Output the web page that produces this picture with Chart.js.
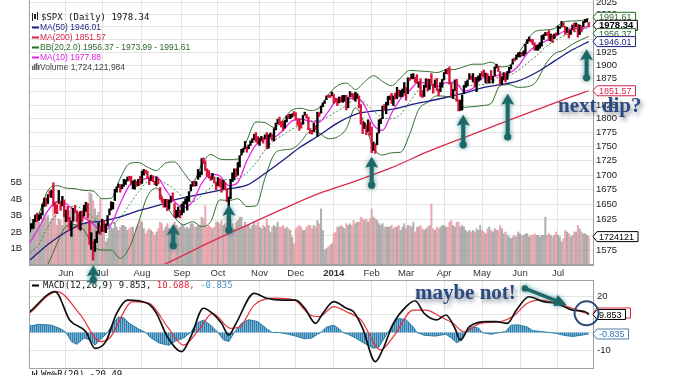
<!DOCTYPE html>
<html>
<head>
<meta charset="utf-8">
<script src="https://cdn.jsdelivr.net/npm/chart.js@4.4.1/dist/chart.umd.min.js"></script>
<style>
  html, body { margin: 0; padding: 0; background: #fff; overflow: hidden; }
  #wrap { position: relative; width: 685px; height: 375px; }
  #wrap canvas { position: absolute; left: 0; top: 0; }
</style>
</head>
<body>
<div id="wrap">
  <canvas id="macdChart" width="685" height="375"></canvas>
  <canvas id="priceChart" width="685" height="375"></canvas>
</div>
<script>
// ---- axis labels ----
const monthIdx = [20, 40, 62, 84, 104, 127, 147, 168, 189, 208, 229, 250, 271, 292];
const monthLabels = ["Jun", "Jul", "Aug", "Sep", "Oct", "Nov", "Dec", "2014", "Feb", "Mar", "Apr", "May", "Jun", "Jul"];
const priceTicks = [1575, 1600, 1625, 1650, 1675, 1700, 1725, 1750, 1775, 1800, 1825, 1850, 1875, 1900, 1925, 1950, 1975, 2000, 2025];
const volTicks = [1, 2, 3, 4, 5];
const macdTicks = [-10, 0, 10, 20];

// ---- daily $SPX, 3 May 2013 .. 25 Jul 2014 ----
const closes = [
  1614.4,1617.5,1626.0,1632.7,1626.7,1633.7,1633.8,1650.3,1658.8,1650.5,1667.5,1666.3,1669.2,1655.4,1650.5,1649.6,1660.1,1648.4,1654.4,1630.7,
  1640.4,1631.4,1608.9,1622.6,1643.4,1642.8,1626.1,1612.5,1636.4,1626.7,1639.0,1651.8,1628.9,1588.2,1592.4,1573.1,1588.0,1603.3,1613.2,1606.3,
  1615.0,1614.1,1615.4,1631.9,1640.5,1652.3,1652.6,1675.0,1680.2,1682.5,1676.3,1680.9,1689.4,1692.1,1695.5,1692.4,1685.9,1690.3,1691.7,1685.3,1686.0,1685.7,
  1706.9,1709.7,1707.1,1697.4,1690.9,1697.5,1691.4,1689.5,1694.2,1685.4,1661.3,1655.8,1646.1,1652.4,1642.8,1657.0,1663.5,1656.8,1630.5,1635.0,1638.2,1633.0,
  1639.8,1653.1,1655.1,1655.2,1671.7,1684.0,1689.1,1683.4,1688.0,1697.6,1704.8,1725.5,1722.3,1709.9,1701.8,1697.4,1692.8,1698.7,1691.8,1681.6,
  1695.0,1693.9,1678.7,1690.5,1676.1,1655.5,1656.4,1692.6,1703.2,1710.1,1698.1,1721.5,1733.2,1744.5,1744.7,1754.7,1746.4,1752.1,1759.8,1762.1,1772.0,1763.3,1756.5,
  1761.6,1767.9,1763.0,1770.5,1747.2,1770.6,1771.9,1767.7,1782.0,1790.6,1798.2,1791.5,1787.9,1781.4,1795.9,1804.8,1802.5,1802.8,1807.2,1805.8,
  1800.9,1795.2,1792.8,1785.0,1805.1,1808.4,1802.6,1782.2,1775.5,1775.3,1786.5,1781.0,1810.7,1809.6,1818.3,1828.0,1833.3,1842.0,1841.4,1841.1,1848.4,
  1832.0,1831.4,1826.8,1837.9,1837.5,1838.1,1842.4,1819.2,1838.9,1848.4,1845.9,1838.7,1843.8,1844.9,1828.5,1790.3,1781.6,1792.5,1774.2,1794.2,1782.6,
  1741.9,1755.2,1751.6,1773.4,1797.0,1799.8,1819.8,1819.3,1829.8,1838.6,1840.8,1828.8,1839.8,1836.3,1847.6,1845.1,1845.2,1854.3,1859.5,
  1845.7,1873.9,1873.8,1877.0,1878.0,1877.2,1867.6,1868.2,1846.3,1841.1,1858.8,1872.3,1860.8,1872.0,1866.5,1857.4,1865.6,1852.6,1849.0,1857.6,1872.3,
  1885.5,1890.9,1888.8,1865.1,1845.0,1852.0,1872.2,1833.1,1815.7,1830.6,1843.0,1862.3,1864.9,1871.9,1879.6,1875.4,1878.6,1863.4,1869.4,1878.3,1884.0,
  1883.7,1881.1,1884.7,1867.7,1878.2,1875.6,1878.5,1896.7,1897.5,1888.5,1870.9,1877.9,1885.1,1872.8,1888.0,1892.5,1900.5,1911.9,1909.8,1920.0,1923.6,
  1925.0,1924.2,1927.9,1940.5,1949.4,1951.3,1950.8,1943.9,1930.1,1936.2,1937.8,1942.0,1957.0,1959.5,1962.9,1962.6,1950.0,1959.5,1957.2,1961.0,1960.2,
  1973.3,1974.6,1985.4,1977.7,1963.7,1972.8,1964.7,1967.6,1977.1,1973.3,1981.6,1958.1,1978.2,1973.6,1983.5,1987.0,1988.0,1978.3
];
const highs = [
  1618,1619,1626,1633,1636,1633,1636,1651,1661,1661,1667,1673,1675,1687,1654,1650,1674,1656,1664,1658,
  1641,1647,1629,1623,1644,1649,1640,1637,1639,1640,1649,1654,1652,1624,1604,1590,1593,1606,1620,1615,
  1626,1624,1618,1632,1643,1655,1654,1676,1680,1685,1684,1684,1693,1692,1697,1698,1698,1690,1692,1690,1693,1698,
  1707,1710,1709,1707,1697,1700,1699,1690,1697,1693,1679,1663,1659,1659,1659,1658,1664,1670,1652,1641,1646,1641,
  1651,1655,1660,1664,1672,1684,1689,1690,1689,1710,1706,1729,1730,1725,1711,1708,1699,1703,1697,1688,
  1696,1694,1692,1691,1687,1676,1663,1693,1704,1711,1711,1722,1734,1745,1747,1759,1750,1753,1760,1764,1772,1775,1768,
  1765,1768,1766,1771,1775,1771,1774,1772,1782,1792,1799,1803,1795,1795,1797,1805,1808,1808,1809,1813,
  1811,1800,1800,1793,1806,1812,1808,1803,1782,1779,1792,1788,1812,1811,1823,1829,1833,1842,1844,1843,1849,
  1845,1838,1837,1840,1840,1843,1843,1843,1839,1850,1847,1846,1849,1846,1842,1826,1795,1793,1789,1798,1794,
  1785,1758,1755,1774,1798,1800,1823,1826,1830,1841,1842,1847,1842,1847,1858,1853,1852,1855,1867,
  1858,1876,1876,1883,1884,1877,1882,1868,1874,1852,1862,1874,1874,1873,1884,1864,1872,1875,1855,1867,1873,
  1886,1892,1894,1897,1865,1854,1872,1873,1835,1834,1844,1862,1869,1872,1884,1880,1884,1876,1877,1880,1884,
  1888,1891,1885,1884,1879,1890,1879,1897,1902,1898,1888,1878,1886,1885,1888,1896,1901,1912,1914,1920,1924,
  1925,1925,1928,1941,1950,1955,1951,1950,1944,1938,1939,1944,1958,1960,1964,1964,1968,1961,1959,1961,1963,
  1977,1975,1986,1984,1976,1974,1969,1969,1979,1983,1983,1980,1979,1977,1986,1990,1991,1984
];
const lows = [
  1605,1610,1611,1622,1622,1624,1627,1633,1647,1648,1652,1663,1662,1648,1636,1635,1652,1641,1648,1630,
  1622,1623,1608,1598,1623,1637,1622,1610,1608,1623,1631,1639,1628,1585,1577,1560,1574,1588,1603,1601,
  1606,1606,1604,1615,1633,1641,1643,1657,1671,1679,1671,1677,1681,1684,1690,1691,1684,1677,1676,1681,1682,1684,
  1686,1700,1703,1694,1684,1691,1689,1684,1682,1685,1659,1654,1646,1646,1640,1643,1654,1656,1629,1628,1630,1628,
  1633,1637,1651,1641,1656,1673,1681,1681,1682,1693,1697,1701,1720,1708,1698,1695,1691,1693,1687,1675,
  1682,1680,1671,1677,1675,1655,1646,1660,1689,1692,1697,1700,1714,1735,1740,1746,1740,1746,1752,1757,1762,1758,1755,
  1752,1761,1756,1764,1746,1747,1767,1761,1760,1780,1791,1789,1785,1778,1783,1794,1800,1800,1803,1805,
  1799,1788,1779,1783,1790,1806,1801,1780,1773,1772,1777,1780,1768,1804,1810,1822,1828,1835,1839,1839,1842,
  1828,1830,1824,1829,1831,1830,1832,1816,1820,1840,1840,1835,1832,1838,1820,1790,1773,1782,1771,1777,1770,
  1739,1743,1738,1753,1774,1791,1800,1815,1809,1825,1835,1828,1824,1836,1837,1841,1840,1841,1847,
  1834,1846,1871,1874,1874,1867,1866,1858,1841,1839,1841,1858,1851,1854,1864,1847,1858,1852,1842,1850,1858,
  1872,1884,1883,1864,1841,1837,1852,1832,1814,1815,1816,1846,1858,1861,1873,1873,1868,1859,1850,1870,1872,
  1879,1878,1866,1867,1866,1872,1866,1880,1895,1888,1862,1864,1872,1868,1873,1886,1893,1902,1908,1911,1916,
  1916,1918,1918,1922,1942,1947,1945,1940,1929,1929,1929,1933,1937,1950,1958,1958,1948,1947,1944,1952,1958,
  1960,1972,1975,1975,1960,1964,1953,1960,1969,1966,1975,1955,1960,1965,1975,1984,1985,1975
];
// volume in billions of shares
const volumes = [
  2.9,2.5,2.7,2.8,2.7,2.6,2.4,2.8,3.0,2.9,3.0,2.6,2.8,3.9,3.2,2.4,2.8,2.7,2.4,3.2,
  3.0,3.1,3.3,3.5,3.2,2.4,3.0,3.1,2.9,2.8,2.5,2.6,3.1,4.4,4.3,3.9,3.4,3.0,3.2,4.0,
  2.3,2.4,1.4,1.6,2.4,2.3,2.2,2.6,2.3,2.1,2.3,2.4,2.4,2.3,2.1,2.2,2.3,2.3,1.9,2.3,2.4,2.7,
  2.6,2.2,1.9,2.1,2.2,2.1,2.0,1.8,2.0,2.2,2.6,2.5,2.1,2.3,2.5,2.2,1.9,2.0,2.6,2.4,2.2,2.3,
  2.5,2.4,2.2,2.3,2.2,2.5,2.5,2.3,2.3,2.4,2.4,2.9,2.8,3.6,2.3,2.4,2.3,2.2,2.3,2.6,
  2.6,2.5,2.7,2.4,2.5,2.9,2.9,2.8,2.5,2.2,2.6,2.7,2.9,2.9,2.3,2.6,2.4,2.4,2.2,2.4,2.6,2.4,2.6,
  2.3,2.2,2.4,2.3,2.8,2.4,2.0,2.3,2.4,2.3,2.6,2.3,2.3,2.4,2.2,2.3,2.2,2.1,1.7,1.3,
  2.2,2.3,2.4,2.3,2.1,2.1,2.3,2.4,2.4,2.2,2.4,2.3,2.7,2.5,3.4,2.1,0.9,1.0,1.1,1.2,1.3,
  1.9,2.0,2.3,2.3,2.4,2.3,2.2,2.5,2.4,2.5,2.4,2.7,2.5,2.6,2.6,2.9,2.8,2.7,2.8,2.6,2.8,
  3.4,2.9,2.8,2.7,2.5,2.4,2.5,2.3,2.3,2.3,2.3,2.4,2.2,2.3,2.3,2.4,2.1,2.3,2.5,
  2.2,2.4,2.4,2.3,2.6,2.0,2.3,2.3,2.4,2.2,2.1,2.2,2.3,2.4,3.7,2.2,2.1,2.3,2.2,2.3,2.4,
  2.4,2.3,2.3,2.6,2.7,2.4,2.3,2.6,2.6,2.3,2.4,2.3,2.1,2.0,2.1,2.0,2.1,2.0,2.2,2.1,2.4,
  2.1,2.0,1.9,2.2,2.3,2.1,2.0,2.2,2.1,2.1,2.4,2.2,1.9,2.0,1.8,1.7,1.6,1.7,1.8,1.7,2.0,
  1.9,1.8,1.8,1.9,1.9,1.7,1.8,1.8,1.9,1.8,1.8,1.7,1.8,1.8,2.9,1.8,1.9,1.8,1.7,1.8,2.0,
  1.8,1.7,1.4,1.6,2.1,2.0,1.9,1.7,1.8,2.0,2.0,2.4,2.2,2.0,1.9,1.9,1.8,1.72
];

// ---- overlays (trading-day index -> value) ----
const bandDays = [0,5,10,15,20,25,30,35,40,45,50,55,60,65,70,75,80,85,90,95,100,105,110,115,120,125,130,135,140,145,150,155,160,165,170,175,180,185,190,195,200,205,210,215,220,225,230,235,240,245,250,255,260,265,270,275,280,285,290,295,300,305,309];
const ma10 = [1588,1612,1640,1655,1652,1638,1629,1618,1606,1618,1652,1682,1689,1695,1697,1676,1655,1645,1655,1686,1702,1699,1682,1688,1725,1753,1763,1766,1779,1796,1799,1795,1794,1813,1834,1835,1839,1825,1789,1779,1810,1837,1852,1868,1865,1859,1867,1868,1851,1856,1875,1877,1882,1885,1898,1923,1938,1947,1955,1966,1972,1971,1977.9];
const bbUpper = [1607,1635,1674,1682,1678,1677,1674,1673,1660,1661,1695,1720,1722,1714,1708,1721,1723,1705,1688,1718,1736,1728,1727,1728,1761,1794,1793,1784,1798,1816,1819,1815,1820,1844,1861,1866,1854,1868,1880,1869,1861,1876,1890,1889,1888,1886,1891,1892,1897,1902,1902,1906,1897,1899,1922,1949,1967,1969,1972,1985,1987,1988,1991.6];
const bbMid = [1572,1585,1614,1634,1646,1647,1641,1628,1618,1618,1629,1650,1671,1689,1693,1686,1676,1661,1655,1666,1679,1693,1692,1694,1704,1721,1744,1760,1771,1781,1789,1796,1797,1804,1814,1824,1837,1830,1814,1802,1800,1808,1831,1853,1859,1864,1866,1864,1859,1862,1863,1867,1879,1881,1890,1904,1918,1935,1947,1957,1964,1969,1974.0];
const bbLower = [1537,1537,1554,1586,1614,1617,1608,1583,1576,1576,1563,1580,1620,1664,1678,1651,1629,1617,1622,1614,1622,1658,1657,1660,1647,1648,1695,1736,1744,1746,1759,1777,1774,1764,1767,1782,1820,1792,1748,1735,1739,1740,1772,1817,1830,1842,1841,1836,1821,1822,1824,1828,1861,1863,1858,1859,1869,1901,1922,1929,1941,1950,1956.4];
const ma50Days = [0,10,20,30,40,50,60,70,80,90,100,110,120,130,140,150,160,170,180,190,200,210,220,230,240,250,260,270,280,290,300,309];
const ma50 = [1560,1585,1605,1619,1623,1630,1640,1648,1658,1665,1671,1677,1683,1703,1726,1750,1770,1792,1808,1814,1817,1825,1832,1839,1847,1857,1863,1870,1886,1908,1930,1946.0];
const ma200Days = [60,80,100,120,140,160,180,200,220,240,260,280,300,309];
const ma200 = [1535,1561,1589,1616,1643,1669,1690,1713,1741,1766,1791,1816,1841,1851.6];

// MACD(12,26,9)
const macdDays = [0,14,22,31,36,42,48,54,65,70,76,84,89,96,101,106,110,114,124,131,140,147,152,158,162,168,175,179,184,191,195,201,208,213,218,225,230,235,238,243,253,258,264,269,276,284,291,300,307,309];
const macdLine = [11.4,22.4,6.9,0.4,-8.7,-5,10.5,17.8,16,10.5,-2.3,-10.5,-2.3,13.3,10.5,5,-1.4,5,21.5,18.8,17.8,17.8,13.3,5,10.5,16.9,13.3,11.4,2.3,-16,-9.6,5,14.2,17.4,10.5,6.9,9.6,2.3,-4.1,3.2,5.9,5.9,5,12.3,19.6,16.9,16,12.3,11.4,9.853];
const signalDays = [0,15,28,39,44,57,66,76,85,94,101,111,116,124,136,146,155,160,168,175,183,194,201,212,219,227,234,240,249,260,267,275,282,291,300,308,309];
const signalLine = [10.7,22.4,9.6,-5,-3.2,16.9,16,3.2,-6.9,2.3,10.5,2.3,3,15,18.8,17.8,9.6,8.7,14.2,11.4,6.9,-9.6,-2.3,12.3,12.3,8.7,5,0.4,5,5.9,8.7,16,17.8,16,13.3,10.7,10.688];
const histDays = [0,5,12,17,20,23,26,30,33,36,39,43,46,49,52,55,60,64,67,72,77,80,85,89,92,96,100,104,107,110,113,117,121,126,131,134,138,143,147,152,156,159,161,164,168,171,173,176,180,185,190,193,196,198,201,204,208,212,214,218,224,230,233,236,239,241,244,248,250,255,260,263,266,270,275,278,283,287,291,295,300,305,309];
const histVals = [3.5,4.5,4,2,0,-5,-6.5,-3,-4,-7,-4,0,5,8.5,8,5,2,0,-3,-6,-7,-5,-3,0,5,6.8,4,0,-4,-5,0,5,7,6,2,0,0,-1,-2,-3.5,-3,-1,0,3,4,2,0,-1,-3,-6,-8.7,-8,-3,0,5,7.7,7,3,0,-1.5,-2,-1,-3,-5.7,-4,0,3,2.5,0,-1,0,0.5,4,4.2,3,1,0.5,0,-0.5,-1.5,-2.2,-1.5,-0.835];

// hand-drawn arrows: day, tip price, tail price
const arrowDays = [35.1, 79.3, 110.1, 189, 239.6, 264.2, 307.8];
const arrowTips = [1552, 1618, 1650, 1732, 1807, 1846, 1931];
const arrowTails = [1529, 1583, 1608, 1683, 1753, 1767, 1876];

const xMin = -0.455, xMax = 311.35;
const pts = (days, vals) => days.map((d, i) => ({ x: d, y: vals[i] }));
const isDown = i => i > 0 && closes[i] < closes[i - 1];

// striped fill so the histogram reads as thin daily bars
const stripe = document.createElement("canvas");
stripe.width = 2; stripe.height = 1;
const sctx = stripe.getContext("2d");
sctx.fillStyle = "#2a7fae"; sctx.fillRect(0, 0, 1, 1);
sctx.fillStyle = "#7fb3d1"; sctx.fillRect(1, 0, 1, 1);
const histFill = sctx.createPattern(stripe, "repeat");

function drawTag(ctx, xTip, yc, text, stroke, textColor, font) {
  ctx.font = font;
  const w = ctx.measureText(text).width + 6;
  const h = 10;
  ctx.beginPath();
  ctx.moveTo(xTip, yc);
  ctx.lineTo(xTip + 4, yc - h / 2);
  ctx.lineTo(xTip + 4 + w, yc - h / 2);
  ctx.lineTo(xTip + 4 + w, yc + h / 2);
  ctx.lineTo(xTip + 4, yc + h / 2);
  ctx.closePath();
  ctx.fillStyle = "#fff";
  ctx.fill();
  ctx.strokeStyle = stroke;
  ctx.lineWidth = 1;
  ctx.stroke();
  ctx.fillStyle = textColor;
  ctx.textAlign = "left";
  ctx.textBaseline = "middle";
  ctx.fillText(text, xTip + 6, yc + 0.5);
}

function drawUpArrow(ctx, x, yTip, yTail) {
  ctx.save();
  ctx.fillStyle = "#1d6767";
  ctx.strokeStyle = "#1d6767";
  ctx.shadowColor = "rgba(40,125,125,0.7)";
  ctx.shadowBlur = 5;
  ctx.lineWidth = 4;
  ctx.beginPath();
  ctx.moveTo(x, yTip + 8);
  ctx.lineTo(x, yTail);
  ctx.stroke();
  ctx.beginPath();
  ctx.moveTo(x, yTip);
  ctx.lineTo(x - 6.5, yTip + 11);
  ctx.lineTo(x, yTip + 9);
  ctx.lineTo(x + 6.5, yTip + 11);
  ctx.closePath();
  ctx.fill();
  ctx.beginPath();
  ctx.arc(x, yTail, 3.6, 0, Math.PI * 2);
  ctx.fill();
  ctx.restore();
}

function shadowText(ctx, text, x, y) {
  ctx.save();
  ctx.font = 'bold 21px "Liberation Serif"';
  ctx.fillStyle = "#2b4a80";
  ctx.shadowColor = "rgba(30,40,60,0.5)";
  ctx.shadowBlur = 4;
  ctx.shadowOffsetX = 2;
  ctx.shadowOffsetY = 3;
  ctx.textAlign = "left";
  ctx.textBaseline = "alphabetic";
  ctx.fillText(text, x, y);
  ctx.restore();
}

const mainOverlay = {
  id: "mainOverlay",
  afterDraw(chart) {
    const { ctx, chartArea: a } = chart;
    const x = chart.scales.x, y = chart.scales.y, yv = chart.scales.yVol;
    ctx.save();
    ctx.strokeStyle = "#a0a0a0";
    ctx.lineWidth = 1;
    ctx.strokeRect(a.left + 0.5, a.top - 1, a.right - a.left, a.bottom - a.top + 0.5);

    // legend
    ctx.textAlign = "left";
    ctx.textBaseline = "middle";
    ctx.fillStyle = "#222";
    ctx.fillRect(32, 13, 1, 8); ctx.fillRect(34, 14, 2, 5); ctx.fillRect(37, 12, 1, 8);
    ctx.font = '9px "DejaVu Sans Mono"';
    ctx.fillStyle = "#111";
    ctx.fillText("$SPX (Daily) 1978.34", 41, 17.5);
    const entries = [
      ["MA(50) 1946.01", "#1c1c80"],
      ["MA(200) 1851.57", "#d42648"],
      ["BB(20,2.0) 1956.37 - 1973.99 - 1991.61", "#2a6a2a"],
      ["MA(10) 1977.88", "#e020e0"]
    ];
    ctx.font = '8.5px "Liberation Sans"';
    entries.forEach((e, k) => {
      const ly = 27.5 + k * 10;
      ctx.fillStyle = e[1];
      ctx.fillRect(32, ly - 1, 7, 2);
      ctx.fillText(e[0], 40, ly);
    });
    ctx.fillStyle = "#666";
    ctx.fillRect(32, 66, 1.5, 4); ctx.fillRect(34, 64, 1.5, 6); ctx.fillRect(36, 63, 1.5, 7); ctx.fillRect(38, 65, 1.5, 5);
    ctx.fillStyle = "#444";
    ctx.fillText("Volume 1,724,121,984", 40, 67.5);

    // value tags on the right axis
    const tags = [
      { v: 1851.57, t: "1851.57", c: "#d42648", tc: "#d42648", f: '9px "Liberation Sans"' },
      { v: 1946.01, t: "1946.01", c: "#1c1c80", tc: "#1c1c80", f: '9px "Liberation Sans"' },
      { v: 1956.37, t: "1956.37", c: "#2a6a2a", tc: "#2a6a2a", f: '9px "Liberation Sans"' },
      { v: 1978.34, t: "1978.34", c: "#000", tc: "#000", f: 'bold 9.5px "Liberation Sans"' },
      { v: 1991.61, t: "1991.61", c: "#2a6a2a", tc: "#2a6a2a", f: '9px "Liberation Sans"' }
    ];
    let prev = Infinity;
    tags.forEach(tg => {
      let py = y.getPixelForValue(tg.v);
      if (prev - py < 8) py = prev - 8;
      tg.py = py;
      prev = py;
    });
    tags.slice().reverse().forEach(tg => drawTag(ctx, a.right, tg.py, tg.t, tg.c, tg.tc, tg.f));
    drawTag(ctx, a.right, yv.getPixelForValue(volumes[volumes.length - 1]), "1724121", "#000", "#000", '9px "Liberation Sans"');

    // annotations
    arrowDays.forEach((d, i) => {
      drawUpArrow(ctx, x.getPixelForValue(d), y.getPixelForValue(arrowTips[i]), y.getPixelForValue(arrowTails[i]));
    });
    shadowText(ctx, "next dip?", x.getPixelForValue(292), y.getPixelForValue(1812.8));
    ctx.restore();
  }
};

new Chart(document.getElementById("priceChart"), {
  type: "line",
  data: {
    datasets: [
      {
        type: "bar", label: "Price", yAxisID: "y", order: 0, grouped: false,
        data: closes.map((c, i) => ({ x: i, y: [lows[i], highs[i]] })),
        backgroundColor: closes.map((c, i) => isDown(i) ? "#d8143a" : "#000"),
        barThickness: 1.7
      },
      { label: "MA10", yAxisID: "y", order: 1, data: pts(bandDays, ma10), borderColor: "#e627e6", borderWidth: 1.3, pointRadius: 0, cubicInterpolationMode: "monotone" },
      { label: "MA50", yAxisID: "y", order: 2, data: pts(ma50Days, ma50), borderColor: "#1c1c80", borderWidth: 1.3, pointRadius: 0, cubicInterpolationMode: "monotone" },
      { label: "MA200", yAxisID: "y", order: 3, data: pts(ma200Days, ma200), borderColor: "#dd2b4b", borderWidth: 1.3, pointRadius: 0, cubicInterpolationMode: "monotone" },
      { label: "BB up", yAxisID: "y", order: 4, data: pts(bandDays, bbUpper), borderColor: "#2e6e2e", borderWidth: 1, pointRadius: 0, cubicInterpolationMode: "monotone" },
      { label: "BB mid", yAxisID: "y", order: 4, data: pts(bandDays, bbMid), borderColor: "#3f8a3f", borderWidth: 1, borderDash: [2, 2], pointRadius: 0, cubicInterpolationMode: "monotone" },
      { label: "BB low", yAxisID: "y", order: 4, data: pts(bandDays, bbLower), borderColor: "#2e6e2e", borderWidth: 1, pointRadius: 0, cubicInterpolationMode: "monotone" },
      {
        type: "bar", label: "Volume", yAxisID: "yVol", order: 10, grouped: false,
        data: volumes.map((v, i) => ({ x: i, y: v })),
        backgroundColor: closes.map((c, i) => isDown(i) ? "rgba(228,140,150,0.75)" : "rgba(150,150,150,0.75)"),
        barThickness: 1.4
      }
    ]
  },
  options: {
    responsive: false,
    animation: false,
    events: [],
    layout: { padding: { left: 0, right: 0, top: 0, bottom: 95 } },
    plugins: { legend: { display: false }, tooltip: { enabled: false } },
    scales: {
      x: {
        type: "linear", min: xMin, max: xMax, bounds: "data", offset: false,
        grid: { color: "#e4e4e4", drawTicks: false, offset: false },
        border: { color: "#a0a0a0" },
        ticks: {
          autoSkip: false, maxRotation: 0, padding: 3, color: "#333",
          font: c => ({ family: "Liberation Sans", size: 9.5, weight: (c.tick && monthLabels[monthIdx.indexOf(c.tick.value)] === "2014") ? "bold" : "normal" }),
          callback: v => monthLabels[monthIdx.indexOf(v)]
        },
        afterBuildTicks: s => { s.ticks = monthIdx.map(v => ({ value: v })); },
        afterFit: s => { s.height = 15; s.paddingLeft = 0; s.paddingRight = 0; }
      },
      y: {
        type: "logarithmic", position: "right", min: 1552.4, max: 2029.6, bounds: "data",
        grid: { color: "#e4e4e4", drawTicks: false },
        border: { color: "#a0a0a0" },
        ticks: { padding: 3, color: "#222", font: { family: "Liberation Sans", size: 9.5 }, callback: v => String(v) },
        afterBuildTicks: s => { s.ticks = priceTicks.map(v => ({ value: v })); },
        afterFit: s => { s.width = 92; s.paddingTop = 0; s.paddingBottom = 0; }
      },
      yVol: {
        type: "linear", position: "left", min: 0, max: 16.06, bounds: "data",
        grid: { display: false, drawTicks: false },
        border: { color: "#a0a0a0" },
        ticks: { padding: 7, color: "#222", font: { family: "Liberation Sans", size: 9.5 }, callback: v => v + "B" },
        afterBuildTicks: s => { s.ticks = volTicks.map(v => ({ value: v })); },
        afterFit: s => { s.width = 29; s.paddingTop = 0; s.paddingBottom = 0; }
      }
    }
  },
  plugins: [mainOverlay]
});

const macdOverlay = {
  id: "macdOverlay",
  afterDraw(chart) {
    const { ctx, chartArea: a } = chart;
    const x = chart.scales.x, y = chart.scales.y;
    ctx.save();
    ctx.strokeStyle = "#a0a0a0";
    ctx.lineWidth = 1;
    ctx.strokeRect(a.left + 0.5, a.top + 0.5, a.right - a.left, a.bottom - a.top);

    // legend
    ctx.textBaseline = "middle";
    ctx.textAlign = "left";
    ctx.fillStyle = "#000";
    ctx.fillRect(32, 284.5, 7, 2);
    ctx.font = '9px "DejaVu Sans Mono"';
    let tx = 43;
    [["MACD(12,26,9) 9.853, ", "#111"], ["10.688, ", "#e02838"], ["-0.835", "#4a92c4"]].forEach(p => {
      ctx.fillStyle = p[1];
      ctx.fillText(p[0], tx, 285.5);
      tx += ctx.measureText(p[0]).width;
    });

    // tags
    drawTag(ctx, a.right, y.getPixelForValue(10.688), "10.688", "#e02838", "#e02838", '9px "Liberation Sans"');
    drawTag(ctx, a.right, y.getPixelForValue(9.853), "9.853", "#000", "#000", '9px "Liberation Sans"');
    drawTag(ctx, a.right, y.getPixelForValue(-0.835), "-0.835", "#4a7fb0", "#3a78b0", '9px "Liberation Sans"');

    // annotation: arrow, circle, text
    const x0 = x.getPixelForValue(273.7), y0 = y.getPixelForValue(24.2);
    const x1 = x.getPixelForValue(296.8), y1 = y.getPixelForValue(15.1);
    ctx.save();
    ctx.fillStyle = "#1d6767";
    ctx.strokeStyle = "#1d6767";
    ctx.shadowColor = "rgba(40,125,125,0.7)";
    ctx.shadowBlur = 5;
    ctx.lineWidth = 3.5;
    const ang = Math.atan2(y1 - y0, x1 - x0);
    ctx.beginPath();
    ctx.moveTo(x0, y0);
    ctx.lineTo(x1 - 9 * Math.cos(ang), y1 - 9 * Math.sin(ang));
    ctx.stroke();
    ctx.beginPath();
    ctx.moveTo(x1, y1);
    ctx.lineTo(x1 - 12 * Math.cos(ang) + 6 * Math.sin(ang), y1 - 12 * Math.sin(ang) - 6 * Math.cos(ang));
    ctx.lineTo(x1 - 12 * Math.cos(ang) - 6 * Math.sin(ang), y1 - 12 * Math.sin(ang) + 6 * Math.cos(ang));
    ctx.closePath();
    ctx.fill();
    ctx.beginPath();
    ctx.arc(x0, y0, 3.2, 0, Math.PI * 2);
    ctx.fill();
    ctx.restore();

    ctx.beginPath();
    ctx.strokeStyle = "#2b4a78";
    ctx.lineWidth = 2;
    ctx.arc(x.getPixelForValue(307.8), y.getPixelForValue(10.5), 12, 0, Math.PI * 2);
    ctx.stroke();

    shadowText(ctx, "maybe not!", x.getPixelForValue(212.9), y.getPixelForValue(18.2));

    // next panel title, cut by the picture edge
    ctx.fillStyle = "#333";
    ctx.fillRect(32, 371, 1.2, 5); ctx.fillRect(34, 373, 1.2, 3); ctx.fillRect(36, 370, 1.2, 6);
    ctx.font = '9px "DejaVu Sans Mono"';
    ctx.fillStyle = "#111";
    ctx.textBaseline = "top";
    ctx.fillText("Wm%R(20) -20.49", 41, 370);
    ctx.restore();
  }
};

new Chart(document.getElementById("macdChart"), {
  type: "line",
  data: {
    datasets: [
      { label: "MACD", order: 0, data: pts(macdDays, macdLine), borderColor: "#111", borderWidth: 1.7, pointRadius: 0, cubicInterpolationMode: "monotone" },
      { label: "Signal", order: 1, data: pts(signalDays, signalLine), borderColor: "#e8303a", borderWidth: 1.2, pointRadius: 0, cubicInterpolationMode: "monotone" },
      { label: "Histogram", order: 2, data: pts(histDays, histVals), borderColor: "#2c7fa8", borderWidth: 1, backgroundColor: histFill, fill: "origin", pointRadius: 0, tension: 0 }
    ]
  },
  options: {
    responsive: false,
    animation: false,
    events: [],
    layout: { padding: { left: 29, right: 0, top: 280, bottom: 7 } },
    plugins: { legend: { display: false }, tooltip: { enabled: false } },
    scales: {
      x: {
        type: "linear", min: xMin, max: xMax, bounds: "data", offset: false,
        grid: { color: "#e4e4e4", drawTicks: false },
        border: { color: "#a0a0a0" },
        ticks: { display: false },
        afterBuildTicks: s => { s.ticks = monthIdx.map(v => ({ value: v })); },
        afterFit: s => { s.height = 0; s.paddingLeft = 0; s.paddingRight = 0; }
      },
      y: {
        type: "linear", position: "right", min: -19.5, max: 28.8, bounds: "data",
        grid: { color: "#e4e4e4", drawTicks: false },
        border: { color: "#a0a0a0" },
        ticks: { padding: 4, color: "#222", font: { family: "Liberation Sans", size: 9.5 } },
        afterBuildTicks: s => { s.ticks = macdTicks.map(v => ({ value: v })); },
        afterFit: s => { s.width = 92; s.paddingTop = 0; s.paddingBottom = 0; }
      }
    }
  },
  plugins: [macdOverlay]
});
</script>
</body>
</html>
